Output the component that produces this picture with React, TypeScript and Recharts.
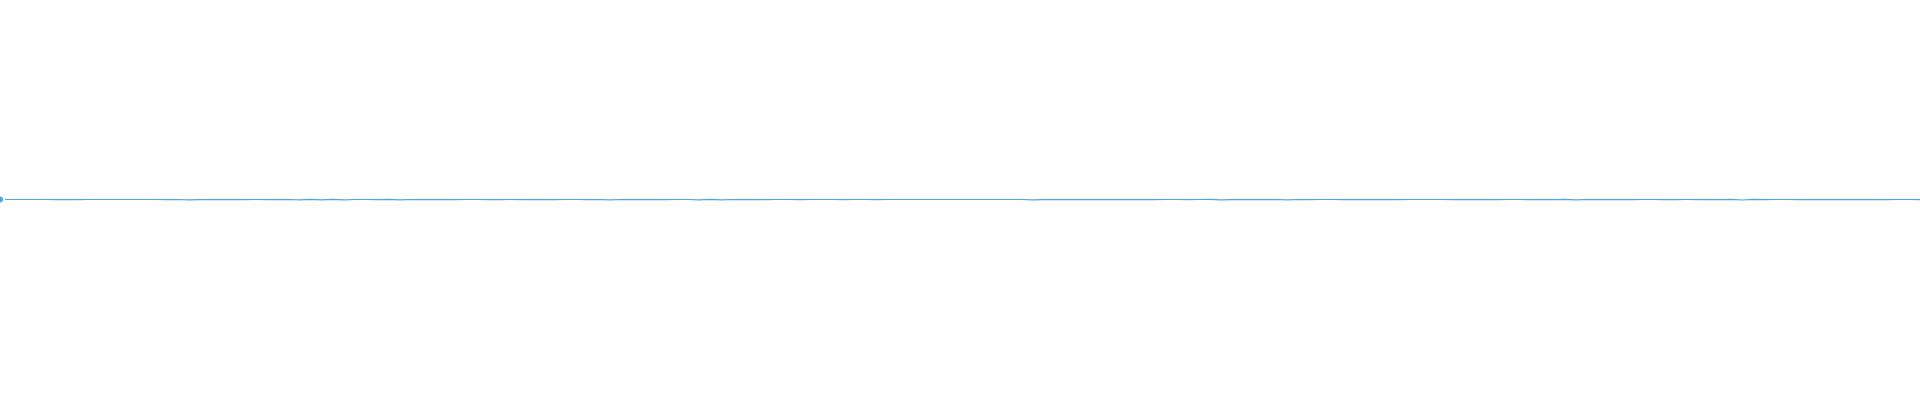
import React from "react";
import { LineChart, Line, XAxis, YAxis } from "recharts";

const values: number[] = [
  0, 0, 0, 0, 0, -0.2, 0, -0.1, 0, 0, 0, 0, 0, 0, 0, -0.2,
  0, -0.3, -0.2, 0, -0.1, 0, -0.2, 0, -0.1, -0.2, 0, -0.3, 0.2, -0.4,
  0.1, -0.3, 0, 0, -0.2, 0.1, -0.3, 0, -0.1, -0.2, 0, -0.1, 0, 0,
  -0.2, -0.1, 0, -0.2, -0.2, 0, -0.1, 0, 0, -0.2, 0, -0.3, 0, -0.1,
  0, -0.2, -0.1, 0, 0, -0.3, 0.1, -0.4, 0, -0.1, 0, -0.2, 0, 0,
  -0.1, 0, 0, 0, -0.2, 0, 0, -0.2, 0, 0, 0, 0, 0, 0, 0, 0,
  0, 0, 0, 0, 0, -0.3, -0.2, -0.1, 0, -0.2, 0, -0.1, 0, -0.2,
  0, -0.1, -0.2, 0, 0, -0.1, 0, 0.1, -0.3, -0.1, -0.2, 0, -0.1, 0,
  -0.3, 0, -0.1, 0, 0, -0.2, 0, -0.1, -0.2, 0, -0.2, 0, 0, 0,
  0, -0.2, 0, -0.2, -0.1, -0.2, 0, 0, -0.1, 0, -0.2, 0.1, -0.3, 0,
  -0.1, -0.2, 0, -0.1, 0, 0, -0.2, -0.1, 0, -0.1, 0, -0.2, 0.2, -0.5,
  0.2, -0.2, 0, 0, -0.1, 0, -0.2, 0, -0.1, -0.2, 0, -0.1, -0.2, 0,
  0, -0.1,
];

const indices: number[] = values.map((_, i) => i);
const data = indices.map((i) => ({ idx: i, value: values[i] }));

const yDomain: [number, number] = [-200.5, 199.5];

export default function App() {
  return (
    <div style={{ position: "absolute", left: 0, top: 0, width: 1920, height: 400, background: "#ffffff" }}>
      <LineChart width={1920} height={400} data={data} margin={{ top: 0, right: 0, bottom: 0, left: 0 }}>
        <XAxis dataKey="idx" hide type="number" domain={["dataMin", "dataMax"]} />
        <YAxis hide domain={yDomain} allowDataOverflow />
        <Line
          type="linear"
          dataKey="value"
          stroke="#4fa6de"
          strokeWidth={1.2}
          dot={false}
          isAnimationActive={false}
        />
      </LineChart>
    </div>
  );
}
